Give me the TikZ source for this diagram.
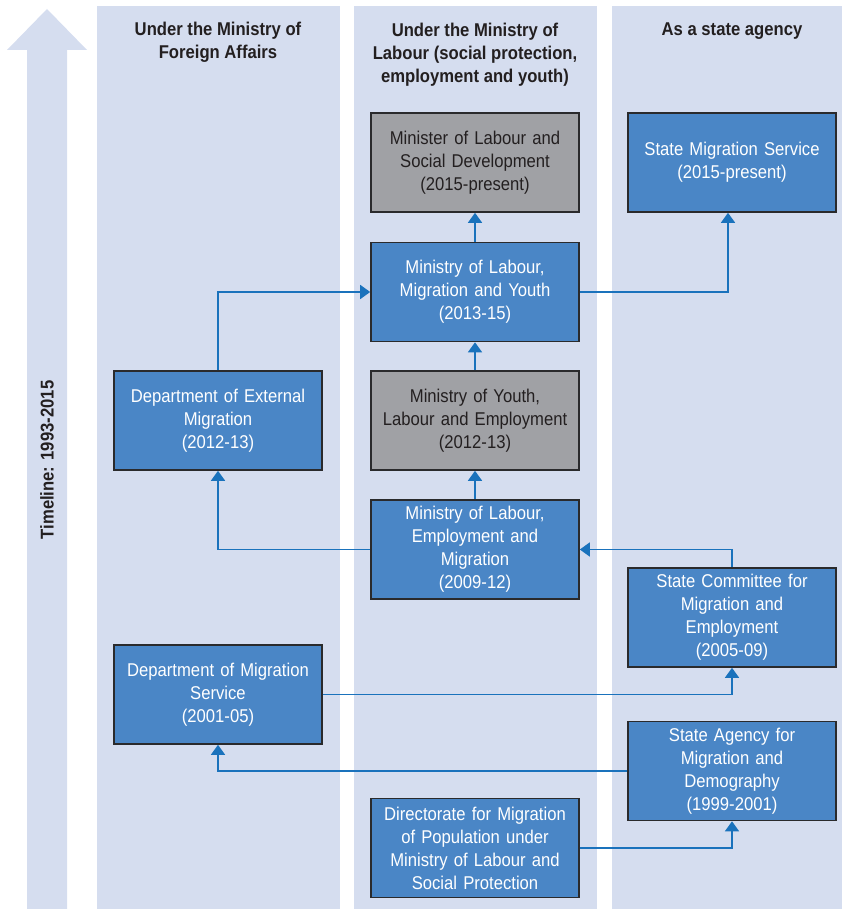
\documentclass[tikz,border=0pt]{standalone}
\usepackage{fontspec}
\setmainfont{Liberation Sans}[FakeStretch=0.9]
\usetikzlibrary{arrows.meta}
\definecolor{colbg}{HTML}{D5DDEF}
\definecolor{boxblue}{HTML}{4A86C6}
\definecolor{boxgrey}{HTML}{A0A1A5}
\definecolor{boxline}{HTML}{2A2A2C}
\definecolor{connblue}{HTML}{1A72BC}
\definecolor{headtext}{HTML}{231F20}
\begin{document}
\begin{tikzpicture}[x=1pt,y=-1pt,
  bluebox/.style={draw=boxline,line width=1.6pt,fill=boxblue,minimum width=208pt,minimum height=99pt,
    text width=200pt,align=center,inner sep=0pt,text=white,
    font=\fontsize{18.5pt}{23pt}\selectfont},
  greybox/.style={bluebox,fill=boxgrey,text=headtext},
  header/.style={align=center,text=headtext,inner sep=0pt,font=\fontsize{18.5pt}{23pt}\selectfont\bfseries},
  conn/.style={draw=connblue,line width=1.5pt,-{Triangle[width=14pt,length=10pt]}}]
\useasboundingbox (0,0) rectangle (845,909);
% timeline arrow
\fill[colbg] (27,909) -- (27,50) -- (7,50) -- (47,9) -- (87,50) -- (67,50) -- (67,909) -- cycle;
\node[header,rotate=90] (tl) at (47,460) {Timeline: 1993-2015};
% columns
\fill[colbg] (97,6) rectangle (340,909);
\fill[colbg] (354,6) rectangle (597,909);
\fill[colbg] (612,6) rectangle (842,909);
\node[header,anchor=north] (h1) at (218,22) {Under the Ministry of\\Foreign Affairs};
\node[header,anchor=north] (h2) at (475,23) {Under the Ministry of\\Labour (social protection,\\employment and youth)};
\node[header,anchor=north] (h3) at (732,23) {As a state agency};
% boxes
\node[greybox] (MLSD) at (475,162.5) {Minister of Labour and\\Social Development\\(2015-present)};
\node[bluebox] (SMS) at (732,162.5) {State Migration Service\\(2015-present)};
\node[bluebox] (MLMY) at (475,292) {Ministry of Labour,\\Migration and Youth\\(2013-15)};
\node[bluebox] (DEM) at (218,420.5) {Department of External\\Migration\\(2012-13)};
\node[greybox] (MYLE) at (475,420.5) {Ministry of Youth,\\Labour and Employment\\(2012-13)};
\node[bluebox] (MLEM) at (475,549.5) {Ministry of Labour,\\Employment and\\Migration\\(2009-12)};
\node[bluebox] (SCME) at (732,617.5) {State Committee for\\Migration and\\Employment\\(2005-09)};
\node[bluebox] (DMS) at (218,694.5) {Department of Migration\\Service\\(2001-05)};
\node[bluebox] (SAMD) at (732,771) {State Agency for\\Migration and\\Demography\\(1999-2001)};
\node[bluebox] (DIR) at (475,848) {Directorate for Migration\\of Population under\\Ministry of Labour and\\Social Protection};
% connectors
\draw[conn] (MLMY.north) -- (MLSD.south);
\draw[conn] (MLMY.east) -| ([xshift=-4pt]SMS.south);
\draw[conn] (DEM.north) |- (MLMY.west);
\draw[conn] (MYLE.north) -- (MLMY.south);
\draw[conn] (MLEM.north) -- (MYLE.south);
\draw[conn] (MLEM.west) -| (DEM.south);
\draw[conn] (SCME.north) |- (MLEM.east);
\draw[conn] (DMS.east) -| (SCME.south);
\draw[conn] (SAMD.west) -| (DMS.south);
\draw[conn] (DIR.east) -| (SAMD.south);
\end{tikzpicture}
\end{document}
